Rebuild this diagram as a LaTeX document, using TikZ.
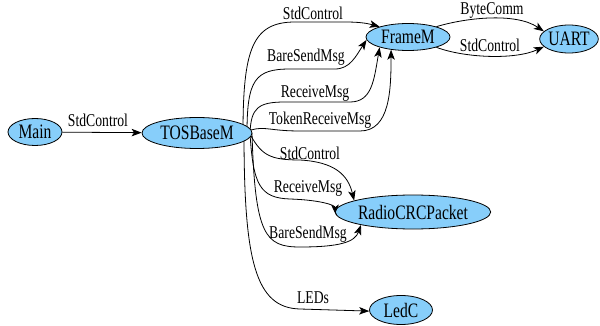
\documentclass[tikz,border=0pt]{standalone}
\usepackage{fontspec}
\usetikzlibrary{arrows.meta,shapes.geometric}
\newfontfamily\gvfont[FakeStretch=0.76]{Liberation Serif}
\definecolor{nodefill}{HTML}{87CEFA}
\pgfdeclarelayer{background}
\pgfsetlayers{background,main}
\tikzset{
  comp/.style={ellipse, draw=black, line width=0.8pt, fill=nodefill, inner sep=0pt,
    font=\gvfont\fontsize{20.5}{20.5}\selectfont},
  elabel/.style={inner sep=0pt, font=\gvfont\fontsize{18}{18}\selectfont},
  wire/.style={draw=black, line width=0.8pt, -{Stealth[length=10pt,width=7.5pt,inset=2.5pt]}},
}
\begin{document}
\begin{tikzpicture}[x=1pt,y=-1pt]
\useasboundingbox (0,0) rectangle (600,326);

% components
\node[comp, minimum width=54pt, minimum height=27pt] (main) at (35,132) {Main};
\node[comp, minimum width=110pt, minimum height=31pt] (tos) at (197,133) {TOSBaseM};
\node[comp, minimum width=84pt, minimum height=27pt] (frame) at (408,37) {FrameM};
\node[comp, minimum width=58pt, minimum height=28pt] (uart) at (569,39) {UART};
\node[comp, minimum width=140pt, minimum height=34pt] (radio) at (413,212) {RadioCRCPacket};
\node[comp, minimum width=63pt, minimum height=29pt] (led) at (401,310) {LedC};

% interface labels
\node[elabel] (l1) at (98,120) {StdControl};
\node[elabel] (l2) at (313,13) {StdControl};
\node[elabel] (l3) at (306,57) {BareSendMsg};
\node[elabel] (l4) at (315,93) {ReceiveMsg};
\node[elabel] (l5) at (320,120) {TokenReceiveMsg};
\node[elabel] (l6) at (310,153) {StdControl};
\node[elabel] (l7) at (308,188) {ReceiveMsg};
\node[elabel] (l8) at (308,234) {BareSendMsg};
\node[elabel] (l9) at (313,298) {LEDs};
\node[elabel] (l10) at (492,10) {ByteComm};
\node[elabel] (l11) at (490,45) {StdControl};

% wiring, kept behind the components
\begin{pgfonlayer}{background}
\draw[wire] (main) -- (tos);
% TOSBaseM -> FrameM
\draw[wire] ([xshift=46pt]tos.center) .. controls (243,50) and (252,22) .. (295,22)
  -- (345,22) .. controls (358,22) and (366,23) .. (frame.160);
\draw[wire] ([xshift=50pt]tos.center) .. controls (247,80) and (255,69) .. (290,69)
  -- (335,69) .. controls (350,69) and (356,56) .. (frame.184);
\draw[wire] ([xshift=53pt]tos.center) .. controls (251,108) and (258,102) .. (285,102)
  -- (350,102) .. controls (372,102) and (374,80) .. (frame.200);
\draw[wire] ([xshift=54pt,yshift=3pt]tos.center) .. controls (265,126) and (270,131) .. (300,131)
  -- (360,131) .. controls (390,131) and (391,90) .. (frame.217);
% TOSBaseM -> RadioCRCPacket
\draw[wire] ([xshift=54pt,yshift=-3pt]tos.center) .. controls (262,155) and (270,160) .. (300,160)
  .. controls (335,162) and (348,175) .. (radio.169);
\draw[wire] ([xshift=53pt]tos.center) .. controls (253,185) and (260,198) .. (290,199)
  .. controls (320,200) and (335,205) .. (radio.182);
\draw[wire] ([xshift=55pt]tos.center) .. controls (255,235) and (265,247) .. (300,247)
  .. controls (340,247) and (355,242) .. (radio.194);
% TOSBaseM -> LedC
\draw[wire] ([xshift=47pt]tos.center) .. controls (244,260) and (255,308) .. (300,309)
  -- (led.182);
% FrameM -> UART
\draw[wire] (frame.20) .. controls (465,18) and (515,12) .. (uart.163);
\draw[wire] (frame.-20) .. controls (465,58) and (515,60) .. (uart.197);
\end{pgfonlayer}
\end{tikzpicture}
\end{document}
